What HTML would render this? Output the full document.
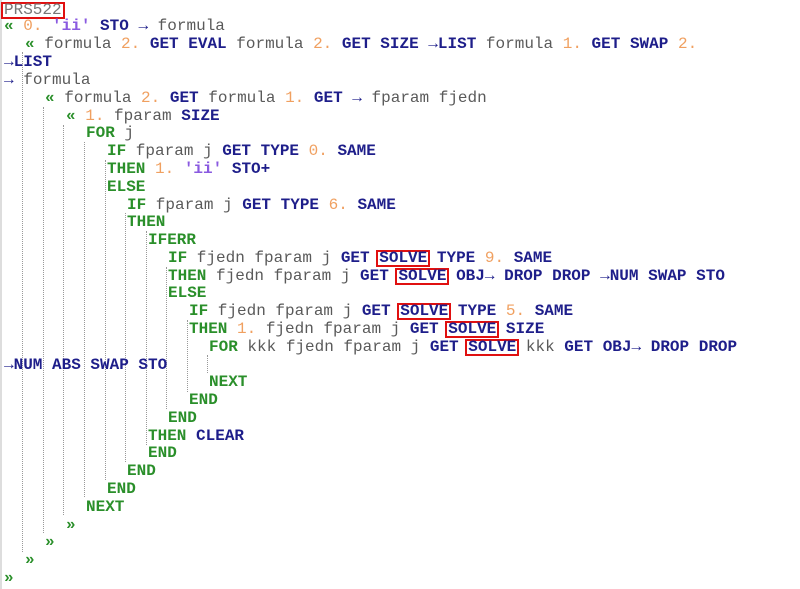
<!DOCTYPE html>
<html><head><meta charset="utf-8"><style>
body{margin:0;background:#fff;width:800px;height:589px;overflow:hidden;position:relative;font-family:"Liberation Mono","Courier New",monospace;font-size:16px;}
.l{position:absolute;white-space:pre;line-height:18px;height:18px;color:#5a5a5a;}
.g{color:#2a8f2a;font-weight:bold}
.k{color:#1e1e8a;font-weight:bold}
.n{color:#f0a060}
.s{color:#8a5ae0;font-weight:bold}
.b{display:inline-block;border:2px solid #e01010;line-height:13px;padding:0 1px;margin:0 -3px;color:#1e1e8a;font-weight:bold}
.v{position:absolute;width:0;border-left:1px dotted #999;}
#edge{position:absolute;left:0;top:0;width:2px;height:589px;background:#ddd}
</style></head><body>
<div id="edge"></div>
<div class="v" style="left:22px;top:52px;height:500px"></div>
<div class="v" style="left:43px;top:107px;height:426px"></div>
<div class="v" style="left:63px;top:125px;height:390px"></div>
<div class="v" style="left:84px;top:142px;height:355px"></div>
<div class="v" style="left:105px;top:160px;height:320px"></div>
<div class="v" style="left:125px;top:213px;height:249px"></div>
<div class="v" style="left:146px;top:231px;height:214px"></div>
<div class="v" style="left:166px;top:267px;height:142px"></div>
<div class="v" style="left:187px;top:320px;height:72px"></div>
<div class="v" style="left:207px;top:355px;height:18px"></div>

<div class="l" style="left:4px;top:1px"><span style="display:inline-block;border:2px solid #e01010;line-height:13px;padding:0 1px;margin-left:-3px;color:#777">PRS522</span></div>
<div class="l" style="left:4px;top:17px"><span class="g">«</span> <span class="n">0.</span> <span class="s">'ii'</span> <span class="k">STO</span> <span class="k">→</span> formula</div>
<div class="l" style="left:25px;top:35px"><span class="g">«</span> formula <span class="n">2.</span> <span class="k">GET EVAL</span> formula <span class="n">2.</span> <span class="k">GET SIZE →LIST</span> formula <span class="n">1.</span> <span class="k">GET SWAP</span> <span class="n">2.</span></div>
<div class="l" style="left:4px;top:53px"><span class="k">→LIST</span></div>
<div class="l" style="left:4px;top:71px"><span class="k">→</span> formula</div>
<div class="l" style="left:45px;top:89px"><span class="g">«</span> formula <span class="n">2.</span> <span class="k">GET</span> formula <span class="n">1.</span> <span class="k">GET →</span> fparam fjedn</div>
<div class="l" style="left:66px;top:107px"><span class="g">«</span> <span class="n">1.</span> fparam <span class="k">SIZE</span></div>
<div class="l" style="left:86px;top:124px"><span class="g">FOR</span> j</div>
<div class="l" style="left:107px;top:142px"><span class="g">IF</span> fparam j <span class="k">GET TYPE</span> <span class="n">0.</span> <span class="k">SAME</span></div>
<div class="l" style="left:107px;top:160px"><span class="g">THEN</span> <span class="n">1.</span> <span class="s">'ii'</span> <span class="k">STO+</span></div>
<div class="l" style="left:107px;top:178px"><span class="g">ELSE</span></div>
<div class="l" style="left:127px;top:196px"><span class="g">IF</span> fparam j <span class="k">GET TYPE</span> <span class="n">6.</span> <span class="k">SAME</span></div>
<div class="l" style="left:127px;top:213px"><span class="g">THEN</span></div>
<div class="l" style="left:148px;top:231px"><span class="g">IFERR</span></div>
<div class="l" style="left:168px;top:249px"><span class="g">IF</span> fjedn fparam j <span class="k">GET</span> <span class="b">SOLVE</span> <span class="k">TYPE</span> <span class="n">9.</span> <span class="k">SAME</span></div>
<div class="l" style="left:168px;top:267px"><span class="g">THEN</span> fjedn fparam j <span class="k">GET</span> <span class="b">SOLVE</span> <span class="k">OBJ→ DROP DROP →NUM SWAP STO</span></div>
<div class="l" style="left:168px;top:284px"><span class="g">ELSE</span></div>
<div class="l" style="left:189px;top:302px"><span class="g">IF</span> fjedn fparam j <span class="k">GET</span> <span class="b">SOLVE</span> <span class="k">TYPE</span> <span class="n">5.</span> <span class="k">SAME</span></div>
<div class="l" style="left:189px;top:320px"><span class="g">THEN</span> <span class="n">1.</span> fjedn fparam j <span class="k">GET</span> <span class="b">SOLVE</span> <span class="k">SIZE</span></div>
<div class="l" style="left:209px;top:338px"><span class="g">FOR</span> kkk fjedn fparam j <span class="k">GET</span> <span class="b">SOLVE</span> kkk <span class="k">GET OBJ→ DROP DROP</span></div>
<div class="l" style="left:4px;top:356px"><span class="k">→NUM ABS SWAP STO</span></div>
<div class="l" style="left:209px;top:373px"><span class="g">NEXT</span></div>
<div class="l" style="left:189px;top:391px"><span class="g">END</span></div>
<div class="l" style="left:168px;top:409px"><span class="g">END</span></div>
<div class="l" style="left:148px;top:427px"><span class="g">THEN</span> <span class="k">CLEAR</span></div>
<div class="l" style="left:148px;top:444px"><span class="g">END</span></div>
<div class="l" style="left:127px;top:462px"><span class="g">END</span></div>
<div class="l" style="left:107px;top:480px"><span class="g">END</span></div>
<div class="l" style="left:86px;top:498px"><span class="g">NEXT</span></div>
<div class="l" style="left:66px;top:516px"><span class="g">»</span></div>
<div class="l" style="left:45px;top:533px"><span class="g">»</span></div>
<div class="l" style="left:25px;top:551px"><span class="g">»</span></div>
<div class="l" style="left:4px;top:569px"><span class="g">»</span></div>
</body></html>
